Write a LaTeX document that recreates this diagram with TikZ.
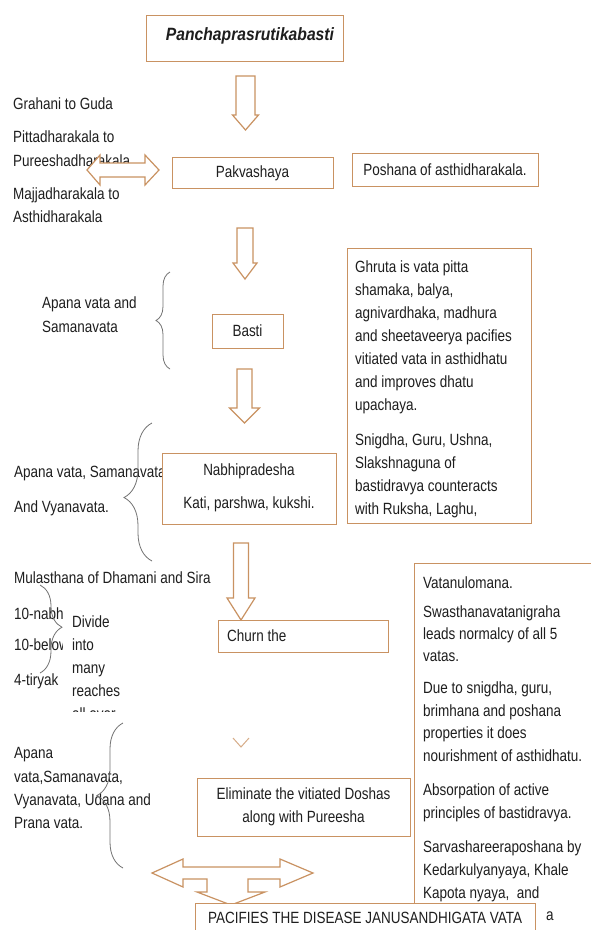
\documentclass[tikz,border=0pt]{standalone}
\usepackage{fontspec}
\setmainfont{Liberation Sans}[FakeStretch=0.83]
\newfontfamily\titlefont{Liberation Sans}[FakeStretch=0.88]
\usetikzlibrary{decorations.pathreplacing}
\definecolor{boxc}{RGB}{201,146,98}
\definecolor{txtc}{RGB}{30,30,30}
\definecolor{bracec}{RGB}{115,115,115}
\newcommand{\mydnarrow}[6]{\draw[blk] ({#1-#3},#2) -- ({#1+#3},#2) -- ({#1+#3},#5) -- ({#1+#4},#5) -- (#1,#6) -- ({#1-#4},#5) -- ({#1-#3},#5) -- cycle;}
\begin{document}
\begin{tikzpicture}[x=1pt,y=-1pt,
  txt/.style={anchor=base west, inner sep=0, text=txtc, font=\fontsize{16.25}{18}\selectfont},
  ctxt/.style={txt, anchor=base},
  box/.style={draw=boxc, line width=1.3pt, fill=white, inner sep=0, anchor=north west},
  blk/.style={draw=boxc, line width=1.2pt, fill=white, line join=miter},
  brc/.style={draw=bracec, line width=0.8pt, decorate, decoration={brace, amplitude=#1, aspect=0.5}},
]
\useasboundingbox (0,0) rectangle (590,930);
\fill[white] (0,0) rectangle (590,930);

% ---- left texts
\node[txt] (l1) at (13,109.8) {Grahani to Guda};
\node[txt] (l2) at (13,142.8) {Pittadharakala to};
\node[txt] (l3) at (13,166.8) {Pureeshadharakala};
\node[txt] (l4) at (13,199.8) {Majjadharakala to};
\node[txt] (l5) at (13,222.8) {Asthidharakala};
\node[txt] (l6) at (42,308.8) {Apana vata and};
\node[txt] (l7) at (42,332.8) {Samanavata};
\node[txt] (l8) at (14,477.8) {Apana vata, Samanavata};
\node[txt] (l9) at (14,512.8) {And Vyanavata.};
\node[txt] (l10) at (14,583.8) {Mulasthana of Dhamani and Sira};
\node[txt] (l11) at (14,619.8) {10-nabhi};
\node[txt] (l12) at (14,650.8) {10-below};
\node[txt] (l13) at (14,685.8) {4-tiryak};
\node[txt] (l14) at (14,758.8) {Apana};
\node[txt] (l15) at (14,782.8) {vata,Samanavata,};
\node[txt] (l16) at (14,805.8) {Vyanavata, Udana and};
\node[txt] (l17) at (14,828.8) {Prana vata.};

% ---- clipped "Divide" text box
\begin{scope}
\clip (63,598) rectangle (150,711);
\node[fill=white, inner sep=0, anchor=north west, minimum width=87, minimum height=113] (divbox) at (63,598) {};
\node[txt] (d1) at (72,627.8) {Divide};
\node[txt] (d2) at (72,650.8) {into};
\node[txt] (d3) at (72,673.8) {many};
\node[txt] (d4) at (72,696.8) {reaches};
\node[txt] (d5) at (72,719.8) {all over};
\end{scope}

% ---- boxes
\node[box, minimum width=197, minimum height=46] (title) at (146,15) {};
\node[box, minimum width=161, minimum height=31] (pak) at (172,157) {};
\node[box, minimum width=186, minimum height=33] (posh) at (352,153) {};
\node[box, minimum width=71, minimum height=34] (basti) at (212,314) {};
\node[box, minimum width=184, minimum height=275] (ghruta) at (347,248) {};
\node[box, minimum width=174, minimum height=71] (nabhi) at (162,453) {};
\node[box, minimum width=170, minimum height=32] (churn) at (218,620) {};
\node[box, minimum width=213, minimum height=58] (elim) at (197,778) {};
\node[box, minimum width=190, minimum height=400] (rbox) at (414,563) {};

% ---- block arrows
\mydnarrow{245.5}{76}{9.5}{13}{115}{130}
\mydnarrow{245}{228}{8}{12}{263}{279}
\mydnarrow{244.5}{369}{7.5}{15}{408}{423}
\mydnarrow{241}{543}{7.5}{14}{598}{620}
\draw[blk] (87,170) -- (100,155) -- (100,163) -- (145,163) -- (145,155) -- (159,170)
  -- (145,185) -- (145,177) -- (100,177) -- (100,185) -- cycle;
\draw[draw=boxc!75, line width=1pt] (233,738) -- (241,747) -- (249,738);
\draw[blk] (152,873) -- (183,859) -- (183,867) -- (280,867) -- (280,859) -- (313,873)
  -- (280,887) -- (280,879) -- (248,879) -- (248,892) -- (265,892) -- (231,905)
  -- (197,892) -- (207,892) -- (207,879) -- (183,879) -- (183,887) -- cycle;

% ---- box texts
\node[ctxt, font=\titlefont\fontsize{17.8}{20}\selectfont\bfseries\itshape] (tt) at (250,40.3) {Panchaprasrutikabasti};
\node[ctxt] (pakt) at (252.5,177.8) {Pakvashaya};
\node[ctxt] (posht) at (445,175.8) {Poshana of asthidharakala.};
\node[ctxt] (bastit) at (247.5,336.8) {Basti};
\node[ctxt] (nab1) at (249,475.8) {Nabhipradesha};
\node[ctxt] (nab2) at (249,508.8) {Kati, parshwa, kukshi.};
\node[txt] (churnt) at (227,641.8) {Churn the};
\node[ctxt] (el1) at (303.5,799.8) {Eliminate the vitiated Doshas};
\node[ctxt] (el2) at (303.5,822.8) {along with Pureesha};

\node[txt] (g1) at (355,272.8) {Ghruta is vata pitta};
\node[txt] (g2) at (355,295.8) {shamaka, balya,};
\node[txt] (g3) at (355,318.8) {agnivardhaka, madhura};
\node[txt] (g4) at (355,341.8) {and sheetaveerya pacifies};
\node[txt] (g5) at (355,364.8) {vitiated vata in asthidhatu};
\node[txt] (g6) at (355,387.8) {and improves dhatu};
\node[txt] (g7) at (355,410.8) {upachaya.};
\node[txt] (g8) at (355,445.8) {Snigdha, Guru, Ushna,};
\node[txt] (g9) at (355,468.8) {Slakshnaguna of};
\node[txt] (g10) at (355,491.8) {bastidravya counteracts};
\node[txt] (g11) at (355,514.8) {with Ruksha, Laghu,};

\node[txt] (r1) at (423,588.8) {Vatanulomana.};
\node[txt] (r2) at (423,617.8) {Swasthanavatanigraha};
\node[txt] (r3) at (423,639.8) {leads normalcy of all 5};
\node[txt] (r4) at (423,661.8) {vatas.};
\node[txt] (r5) at (423,693.8) {Due to snigdha, guru,};
\node[txt] (r6) at (423,716.8) {brimhana and poshana};
\node[txt] (r7) at (423,738.8) {properties it does};
\node[txt] (r8) at (423,761.8) {nourishment of asthidhatu.};
\node[txt] (r9) at (423,795.8) {Absorpation of active};
\node[txt] (r10) at (423,818.8) {principles of bastidravya.};
\node[txt] (r11) at (423,852.8) {Sarvashareeraposhana by};
\node[txt] (r12) at (423,875.8) {Kedarkulyanyaya, Khale};
\node[txt] (r13) at (423,898.8) {Kapota nyaya,~ and};

% ---- bottom box
\node[box, minimum width=340, minimum height=45] (pac) at (195,903) {};
\node[txt] (pact) at (208,923.8) {PACIFIES THE DISEASE JANUSANDHIGATA VATA};
\node[txt] (r14) at (546,920.8) {a};

% ---- braces
\draw[brc=14] (170,369) -- (170,272);
\draw[brc=28, decoration={aspect=0.46}] (152,561) -- (152,423);
\draw[brc=26] (123,868) -- (123,723);
\draw[brc=22, decoration={aspect=0.48}] (40,585) -- (40,673);
\end{tikzpicture}
\end{document}
